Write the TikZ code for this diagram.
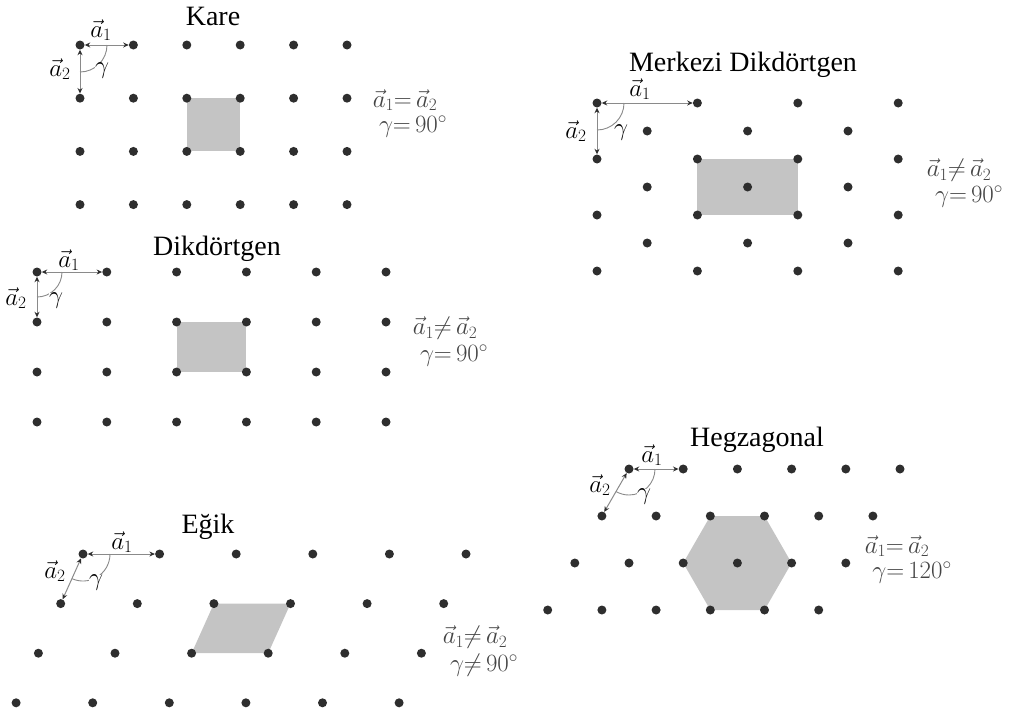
\documentclass[tikz,border=0pt]{standalone}
\usepackage{fontspec}
\setmainfont{Liberation Serif}
\usetikzlibrary{arrows.meta,backgrounds}
\definecolor{dotc}{HTML}{2E2E2E}
\definecolor{cellc}{HTML}{C4C4C4}
\definecolor{vecc}{HTML}{8A8A8A}
\definecolor{condc}{HTML}{444444}
\tikzset{
 pt/.style={circle, fill=dotc, inner sep=0pt, minimum size=9pt},
 cell/.style={fill=cellc},
 vecarrow/.style={draw=vecc, line width=1pt, {Stealth[length=5.5pt,width=5pt,color=dotc]}-{Stealth[length=5.5pt,width=5pt,color=dotc]}},
 anglearc/.style={draw=vecc, line width=0.9pt},
 title/.style={font=\fontsize{28}{32}\selectfont, inner sep=1pt},
 vlab/.style={font=\fontsize{25}{30}\selectfont, inner sep=0pt},
 glab/.style={font=\fontsize{25}{30}\selectfont, fill=white, inner sep=0.5pt},
 cond/.style={font=\fontsize{24}{28}\selectfont, text=condc, inner sep=0pt},
}
\begin{document}
\begin{tikzpicture}[x=1pt,y=-1pt]
\useasboundingbox (0,0) rectangle (1016,715);

% ---------- Kare ----------
\foreach \i in {0,...,5}\foreach \j in {0,...,3}
  \node[pt] (k\i\j) at ({80+53.4*\i},{45+53.2*\j}) {};
\begin{scope}[on background layer]
  \fill[cell] (k21.center) rectangle (k32.center);
\end{scope}
\draw[anglearc] ([xshift=27pt]k00.center) arc[start angle=0,end angle=90,radius=27];
\draw[vecarrow] (k00) -- (k10);
\draw[vecarrow] (k00) -- (k01);
\node[title] (kt) at (213,16) {Kare};
\node[vlab] (ka1) at (101,30) {$\vec{a}_1$};
\node[vlab] (ka2) at (60,69) {$\vec{a}_2$};
\node[glab] (kg) at (102,71) {$\gamma$};
\node[cond] (kc1) at (405,100) {$\vec{a}_1{=}\,\vec{a}_2$};
\node[cond] (kc2) at (413,127) {$\gamma{=}\,90^\circ$};

% ---------- Dikdortgen ----------
\foreach \i in {0,...,5}\foreach \j in {0,...,3}
  \node[pt] (d\i\j) at ({37+69.8*\i},{272+50*\j}) {};
\begin{scope}[on background layer]
  \fill[cell] (d21.center) rectangle (d32.center);
\end{scope}
\draw[anglearc] ([xshift=25pt]d00.center) arc[start angle=0,end angle=90,radius=25];
\draw[vecarrow] (d00) -- (d10);
\draw[vecarrow] (d00) -- (d01);
\node[title] (dt) at (217,249) {Dikdörtgen};
\node[vlab] (da1) at (69,260) {$\vec{a}_1$};
\node[vlab] (da2) at (16,298) {$\vec{a}_2$};
\node[glab] (dg) at (56,301) {$\gamma$};
\node[cond] (dc1) at (445,328) {$\vec{a}_1{\neq}\,\vec{a}_2$};
\node[cond] (dc2) at (454,356) {$\gamma{=}\,90^\circ$};

% ---------- Merkezi Dikdortgen ----------
\foreach \i in {0,...,3}\foreach \j in {0,...,3}
  \node[pt] (m\i\j) at ({597+100.4*\i},{103+56*\j}) {};
\foreach \i in {0,...,2}\foreach \j in {0,...,2}
  \node[pt] (c\i\j) at ({647.2+100.4*\i},{131+56*\j}) {};
\begin{scope}[on background layer]
  \fill[cell] (m11.center) rectangle (m22.center);
\end{scope}
\draw[anglearc] ([xshift=27pt]m00.center) arc[start angle=0,end angle=90,radius=27];
\draw[vecarrow] (m00) -- (m10);
\draw[vecarrow] (m00) -- (m01);
\node[title] (mt) at (743,65) {Merkezi Dikdörtgen};
\node[vlab] (ma1) at (640,89) {$\vec{a}_1$};
\node[vlab] (ma2) at (576,131) {$\vec{a}_2$};
\node[glab] (mg) at (621,133) {$\gamma$};
\node[cond] (mc1) at (959,170) {$\vec{a}_1{\neq}\,\vec{a}_2$};
\node[cond] (mc2) at (969,197) {$\gamma{=}\,90^\circ$};

% ---------- Egik ----------
\foreach \i in {0,...,5}\foreach \j in {0,...,3}
  \node[pt] (e\i\j) at ({83+76.6*\i-22.3*\j},{554+49.6*\j}) {};
\begin{scope}[on background layer]
  \fill[cell] (e21.center) -- (e31.center) -- (e32.center) -- (e22.center) -- cycle;
\end{scope}
\draw[anglearc] ([xshift=27pt]e00.center) arc[start angle=0,end angle=114,radius=27];
\draw[vecarrow] (e00) -- (e10);
\draw[vecarrow] (e00) -- (e01);
\node[title] (et) at (208,527) {Eğik};
\node[vlab] (ea1) at (122,542) {$\vec{a}_1$};
\node[vlab] (ea2) at (55,571) {$\vec{a}_2$};
\node[glab] (eg) at (96,583) {$\gamma$};
\node[cond] (ec1) at (475,637) {$\vec{a}_1{\neq}\,\vec{a}_2$};
\node[cond] (ec2) at (484,665) {$\gamma{\neq}\,90^\circ$};

% ---------- Hegzagonal ----------
\foreach \i in {0,...,5}\foreach \j in {0,...,3}
  \node[pt] (h\i\j) at ({629+54.2*\i-27.1*\j},{469+47*\j}) {};
\begin{scope}[on background layer]
  \fill[cell] (h21.center) -- (h31.center) -- (h42.center) -- (h43.center) -- (h33.center) -- (h22.center) -- cycle;
\end{scope}
\draw[anglearc] ([xshift=26pt]h00.center) arc[start angle=0,end angle=120,radius=26];
\draw[vecarrow] (h00) -- (h10);
\draw[vecarrow] (h00) -- (h01);
\node[title] (ht) at (757,440) {Hegzagonal};
\node[vlab] (ha1) at (652,455) {$\vec{a}_1$};
\node[vlab] (ha2) at (600,485) {$\vec{a}_2$};
\node[glab] (hg) at (644,497) {$\gamma$};
\node[cond] (hc1) at (897,546) {$\vec{a}_1{=}\,\vec{a}_2$};
\node[cond] (hc2) at (912,573) {$\gamma{=}\,120^\circ$};
\end{tikzpicture}
\end{document}
